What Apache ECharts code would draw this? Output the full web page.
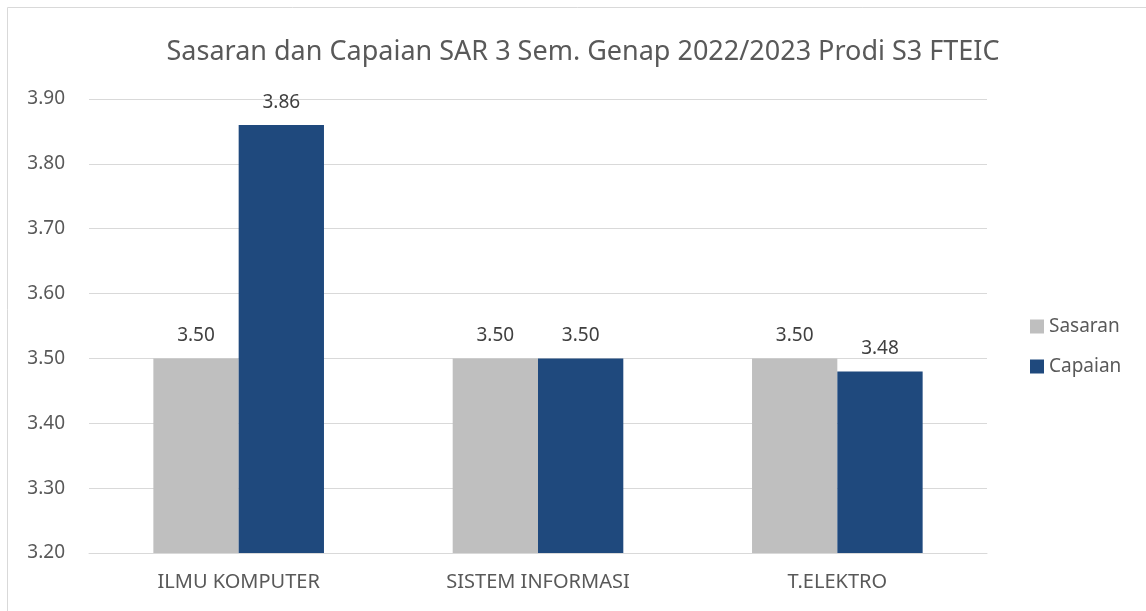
<!DOCTYPE html>
<html><head><meta charset="utf-8">
<script src="https://cdn.jsdelivr.net/npm/echarts@6/dist/echarts.min.js"></script>
<style>html,body{margin:0;padding:0;background:#fff}#c{width:1146px;height:611px}</style>
</head><body><div id="c"></div>
<script>
const categories = ['ILMU KOMPUTER', 'SISTEM INFORMASI', 'T.ELEKTRO'];
const sasaran = [3.50, 3.50, 3.50];
const capaian = [3.86, 3.50, 3.48];
const yTicks = { min: 3.2, max: 3.9, interval: 0.1 };

const font = 'Noto Sans';
const chart = echarts.init(document.getElementById('c'));
const lbl = { show: true, position: 'top', color: '#404040', fontSize: 19, fontFamily: font, distance: 13, formatter: p => p.value.toFixed(2) };
chart.setOption({
  animation: false,
  title: { text: 'Sasaran dan Capaian SAR 3 Sem. Genap 2022/2023 Prodi S3 FTEIC', left: 578, textAlign: 'center', top: 34,
    textStyle: { fontFamily: font, fontSize: 27, fontWeight: 'normal', color: '#595959' } },
  graphic: [{ type: 'rect', shape: { x: 7.5, y: 7.5, width: 1150, height: 620 }, style: { fill: 'none', stroke: '#d9d9d9', lineWidth: 1 } }],
  legend: { orient: 'vertical', left: 1025, top: 312, itemWidth: 14, itemHeight: 14, itemGap: 21, icon: 'rect',
    textStyle: { fontFamily: font, fontSize: 19, color: '#595959' }, data: ['Sasaran', 'Capaian'] },
  grid: { left: 89, right: 159, top: 99, bottom: 58 },
  xAxis: { type: 'category', data: categories,
    axisLine: { lineStyle: { color: '#d9d9d9' } }, axisTick: { show: false },
    axisLabel: { fontFamily: font, fontSize: 20, color: '#595959', margin: 19 } },
  yAxis: { type: 'value', min: yTicks.min, max: yTicks.max, interval: yTicks.interval,
    axisLine: { show: false }, axisTick: { show: false },
    splitLine: { lineStyle: { color: '#d9d9d9' } },
    axisLabel: { fontFamily: font, fontSize: 19, color: '#595959', margin: 24, formatter: v => v.toFixed(2) } },
  series: [
    { name: 'Sasaran', type: 'bar', data: sasaran, itemStyle: { color: '#BFBFBF' }, barGap: '0%', barCategoryGap: '43%', label: lbl },
    { name: 'Capaian', type: 'bar', data: capaian, itemStyle: { color: '#1F497D' }, label: lbl }
  ]
});
</script></body></html>
